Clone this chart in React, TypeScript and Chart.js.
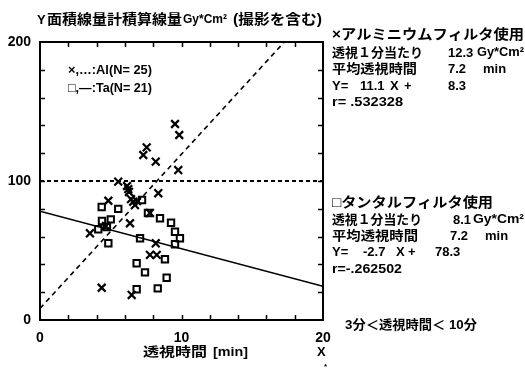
import React, { useEffect, useRef } from 'react';
import { Chart, registerables } from 'chart.js';

Chart.register(...registerables);

// Aluminium filter (×) – fluoroscopy time [min] vs. area dose
const alX = [9.54, 9.84, 7.54, 7.30, 8.18, 9.77, 5.53, 6.24, 6.29, 8.36, 4.83, 6.59, 6.86, 6.36, 3.53, 4.66, 8.18, 7.77, 8.25, 4.36, 6.48, 7.77, 6.71, 6.15, 6.43];
const alY = [141.0, 133.1, 124.2, 118.7, 113.9, 107.9, 99.5, 94.2, 92.1, 91.2, 85.8, 85.1, 85.6, 69.6, 62.4, 67.6, 55.2, 46.8, 46.8, 23.2, 18.0, 77.0, 82.7, 96.4, 87.0];

// Tantalum filter (□)
const taX = [4.36, 5.53, 7.21, 4.38, 5.00, 4.12, 4.73, 4.83, 7.63, 8.48, 9.26, 9.54, 9.89, 9.54, 7.07, 8.83, 6.83, 7.42, 8.95, 8.32, 6.83];
const taY = [81.3, 79.9, 86.3, 71.2, 72.4, 65.3, 66.9, 55.2, 77.0, 73.2, 70.0, 63.5, 58.8, 54.5, 58.8, 43.7, 40.8, 34.3, 30.4, 22.8, 22.1];

// Regression lines: [slope, intercept]
const alFit = [11.1, 8.3];
const taFit = [-2.7, 78.3];
const refLevel = 100;

const xRange = [0, 20];
const yRange = [0, 200];
const xTickLabels = ['0', '10', '20'];
const yTickLabels = ['0', '100', '200'];
const xMinorStep = 2;
const yMinorStep = 20;

const FAMILY = '"Liberation Sans", "Noto Sans CJK JP", sans-serif';

function txt(ctx: CanvasRenderingContext2D, s: string, x: number, y: number, size: number, w?: number, weight = 'bold') {
  ctx.save();
  ctx.font = `${weight} ${size}px ${FAMILY}`;
  ctx.textBaseline = 'middle';
  ctx.textAlign = 'left';
  ctx.fillStyle = '#000';
  const m = ctx.measureText(s).width;
  ctx.translate(x, y);
  if (w) ctx.scale(w / m, 1);
  ctx.fillText(s, 0, 0);
  ctx.restore();
}

const framePlugin = {
  id: 'frameAndText',
  afterDraw(chart: any) {
    const ctx: CanvasRenderingContext2D = chart.ctx;
    const { left, right, top, bottom } = chart.chartArea;
    const xs = chart.scales.x;
    const ys = chart.scales.y;
    ctx.save();
    ctx.strokeStyle = '#000';
    ctx.lineWidth = 2;
    ctx.strokeRect(left, top, right - left, bottom - top);
    ctx.lineWidth = 1.5;
    const tl = 5;
    ctx.beginPath();
    for (let v = xRange[0] + xMinorStep; v < xRange[1]; v += xMinorStep) {
      const px = Math.round(xs.getPixelForValue(v)) + 0.5;
      ctx.moveTo(px, bottom); ctx.lineTo(px, bottom - tl);
      ctx.moveTo(px, top); ctx.lineTo(px, top + tl);
    }
    for (let v = yRange[0] + yMinorStep; v < yRange[1]; v += yMinorStep) {
      const py = Math.round(ys.getPixelForValue(v)) + 0.5;
      ctx.moveTo(left, py); ctx.lineTo(left + tl, py);
      ctx.moveTo(right, py); ctx.lineTo(right - tl, py);
    }
    ctx.stroke();
    ctx.restore();

    // Title
    txt(ctx, 'Y', 37, 20, 13);
    txt(ctx, '面積線量計積算線量', 47, 20, 14, 135);
    txt(ctx, 'Gy*Cm²', 183, 20, 12, 44);
    txt(ctx, '(撮影を含む)', 233, 20, 14, 89);

    // Legend inside plot
    txt(ctx, '×,…:Al(N= 25)', 68, 70, 13, 84);
    txt(ctx, '□,—:Ta(N= 21)', 68, 88, 13, 84);

    // Upper block (Al)
    txt(ctx, '×アルミニウムフィルタ使用', 332, 35, 14, 192);
    txt(ctx, '透視１分当たり', 332, 53, 13, 91);
    txt(ctx, '12.3', 448, 53, 13);
    txt(ctx, 'Gy*Cm²', 477, 53, 12, 47);
    txt(ctx, '平均透視時間', 332, 69, 13, 85);
    txt(ctx, '7.2', 448, 69, 13);
    txt(ctx, 'min', 483, 69, 13);
    txt(ctx, 'Y=', 332, 86, 13);
    txt(ctx, '11.1', 360, 86, 13);
    txt(ctx, 'X', 390, 86, 13);
    txt(ctx, '+', 404, 86, 13);
    txt(ctx, '8.3', 448, 86, 13);
    txt(ctx, 'r= .532328', 332, 102, 13, 71);

    // Lower block (Ta)
    txt(ctx, '□タンタルフィルタ使用', 332, 203, 14, 161);
    txt(ctx, '透視１分当たり', 332, 220, 13, 90);
    txt(ctx, '8.1', 453, 220, 13);
    txt(ctx, 'Gy*Cm²', 473, 220, 12, 51);
    txt(ctx, '平均透視時間', 332, 236, 13, 86);
    txt(ctx, '7.2', 450, 236, 13);
    txt(ctx, 'min', 485, 236, 13);
    txt(ctx, 'Y=', 332, 252, 13);
    txt(ctx, '-2.7', 363, 252, 13);
    txt(ctx, 'X', 396, 252, 13);
    txt(ctx, '+', 408, 252, 13);
    txt(ctx, '78.3', 435, 252, 13);
    txt(ctx, 'r=-.262502', 332, 269, 13, 70);

    txt(ctx, '3分＜透視時間＜ 10分', 345, 325, 13, 132);

    // X axis title
    txt(ctx, '透視時間', 143, 352, 13, 64);
    txt(ctx, '[min]', 213, 352, 13, 35);
    txt(ctx, 'X', 317, 352, 13);
    txt(ctx, '*', 324, 367, 8);
  },
};

function line(fit: number[]) {
  return [
    { x: xRange[0], y: fit[0] * xRange[0] + fit[1] },
    { x: xRange[1], y: fit[0] * xRange[1] + fit[1] },
  ];
}

export default function App() {
  const ref = useRef<HTMLCanvasElement>(null);
  useEffect(() => {
    document.body.style.margin = '0';
    const chart = new Chart(ref.current!, {
      type: 'scatter',
      data: {
        datasets: [
          {
            label: 'Al',
            data: alX.map((x, i) => ({ x, y: alY[i] })),
            pointStyle: 'crossRot',
            pointRadius: 5.5,
            borderColor: '#000',
            backgroundColor: '#000',
            pointBorderWidth: 2.2,
          },
          {
            label: 'Ta',
            data: taX.map((x, i) => ({ x, y: taY[i] })),
            pointStyle: 'rect',
            pointRadius: 4.5,
            borderColor: '#000',
            backgroundColor: 'rgba(0,0,0,0)',
            pointBorderWidth: 2,
          },
          {
            type: 'line',
            label: 'Al fit',
            data: line(alFit),
            borderColor: '#000',
            borderWidth: 1.6,
            borderDash: [5, 4],
            pointRadius: 0,
          } as any,
          {
            type: 'line',
            label: 'Ta fit',
            data: line(taFit),
            borderColor: '#000',
            borderWidth: 1.6,
            pointRadius: 0,
          } as any,
          {
            type: 'line',
            label: 'ref',
            data: [{ x: xRange[0], y: refLevel }, { x: xRange[1], y: refLevel }],
            borderColor: '#000',
            borderWidth: 2,
            borderDash: [4, 3],
            pointRadius: 0,
          } as any,
        ],
      },
      options: {
        animation: false,
        responsive: false,
        devicePixelRatio: 1,
        layout: { padding: { top: 42, right: 202, left: 0, bottom: 0 } },
        plugins: { legend: { display: false }, tooltip: { enabled: false } },
        scales: {
          x: {
            type: 'linear',
            min: xRange[0],
            max: xRange[1],
            grid: { display: false, drawTicks: false },
            border: { display: false },
            ticks: {
              stepSize: 10,
              padding: 10,
              color: '#000',
              font: { family: FAMILY, size: 14, weight: 'bold' },
              callback: (v: any) => (xTickLabels.includes(String(v)) ? String(v) : ''),
            },
            afterFit: (s: any) => { s.height = 51; },
          },
          y: {
            type: 'linear',
            min: yRange[0],
            max: yRange[1],
            grid: { display: false, drawTicks: false },
            border: { display: false },
            ticks: {
              stepSize: 100,
              padding: 9,
              color: '#000',
              font: { family: FAMILY, size: 14, weight: 'bold' },
              callback: (v: any) => (yTickLabels.includes(String(v)) ? String(v) : ''),
            },
            afterFit: (s: any) => { s.width = 40; },
          },
        },
      },
      plugins: [framePlugin],
    });
    return () => chart.destroy();
  }, []);
  return (
    <div style={{ position: 'fixed', left: 0, top: 0, width: 525, height: 371, background: '#fff' }}>
      <canvas ref={ref} width={525} height={371} style={{ display: 'block' }} />
    </div>
  );
}
